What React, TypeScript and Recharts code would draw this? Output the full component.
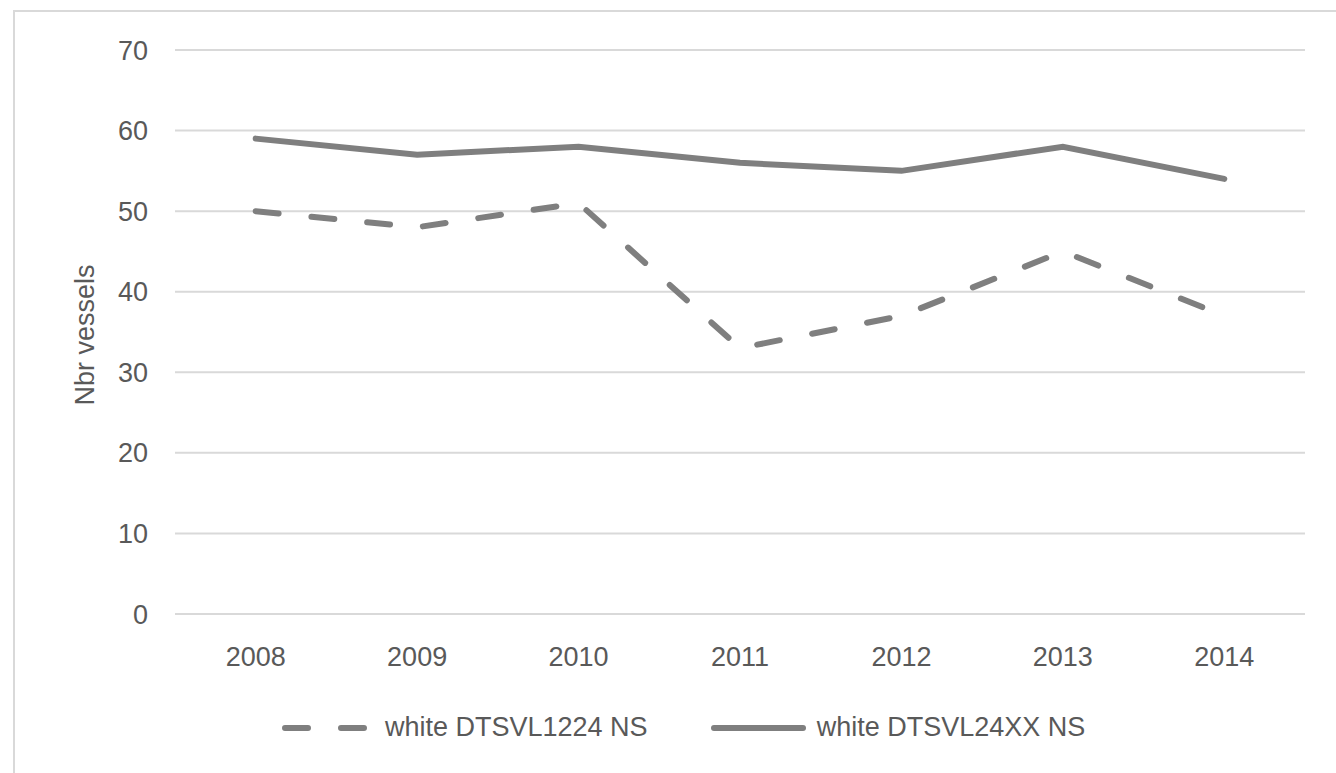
import React from 'react';
import { LineChart, Line, XAxis, YAxis, CartesianGrid } from 'recharts';

const years = ['2008', '2009', '2010', '2011', '2012', '2013', '2014'];
const dtsvl1224 = [50, 48, 51, 33, 37, 45, 37];
const dtsvl24xx = [59, 57, 58, 56, 55, 58, 54];
const yTicks = [0, 10, 20, 30, 40, 50, 60, 70];

const data = years.map((year, i) => ({
    year,
    s1224: dtsvl1224[i],
    s24xx: dtsvl24xx[i],
}));

const FONT = '"Liberation Sans", Arial, sans-serif';
const TEXT = '#595959';
const LINE = '#7f7f7f';
const DASH = '23 33';

// legend drawn as plain html under the plot
const LegendBox = () => (
    <div style={{ position: 'absolute', top: 712, left: 282, display: 'flex', alignItems: 'center', fontFamily: FONT, fontSize: 27, color: TEXT }}>
        <svg width={86} height={12}>
            <line x1={3} y1={6} x2={83} y2={6} stroke={LINE} strokeWidth={6} strokeLinecap="round" strokeDasharray={DASH} />
        </svg>
        <span style={{ marginLeft: 17 }}>white DTSVL1224 NS</span>
        <svg width={95} height={12} style={{ marginLeft: 63 }}>
            <line x1={3} y1={6} x2={92} y2={6} stroke={LINE} strokeWidth={6} strokeLinecap="round" />
        </svg>
        <span style={{ marginLeft: 11 }}>white DTSVL24XX NS</span>
    </div>
);

const App = () => {
    return (
        <div style={{ position: 'absolute', left: 0, top: 0, width: 1336, height: 773, overflow: 'hidden', background: '#fff' }}>
            <div style={{ position: 'absolute', left: 13, top: 10, width: 1400, height: 800, border: '2px solid #d9d9d9' }} />
            <div style={{ position: 'absolute', left: 0, top: 0 }}>
                <LineChart width={1336} height={773} data={data}
                    margin={{ top: 50, right: 31, left: 115, bottom: 99 }}>
                    <CartesianGrid vertical={false} stroke="#d9d9d9" strokeWidth={2} />
                    <XAxis dataKey="year" scale="band" height={60} axisLine={{ stroke: '#d9d9d9', strokeWidth: 2 }} tickLine={false}
                        tickSize={0} tickMargin={33}
                        tick={{ fill: TEXT, fontSize: 27, fontFamily: FONT }} />
                    <YAxis width={60} domain={[0, 70]} ticks={yTicks} axisLine={false} tickLine={false}
                        tickSize={0} tickMargin={27} interval={0}
                        tick={{ fill: TEXT, fontSize: 27, fontFamily: FONT }}
                        label={{
                            content: () => (
                                <text x={85} y={335} transform="rotate(-90 85 335)" textAnchor="middle"
                                    dominantBaseline="central" fill={TEXT} fontSize={27} fontFamily={FONT}>
                                    Nbr vessels
                                </text>
                            ),
                        }} />
                    <Line type="linear" dataKey="s1224" name="white DTSVL1224 NS" stroke={LINE} strokeWidth={6}
                        strokeDasharray={DASH} strokeLinecap="round" dot={false} activeDot={false} isAnimationActive={false} />
                    <Line type="linear" dataKey="s24xx" name="white DTSVL24XX NS" stroke={LINE} strokeWidth={6}
                        strokeLinecap="round" dot={false} activeDot={false} isAnimationActive={false} />
                </LineChart>
            </div>
            <LegendBox />
        </div>
    );
};

export default App;
